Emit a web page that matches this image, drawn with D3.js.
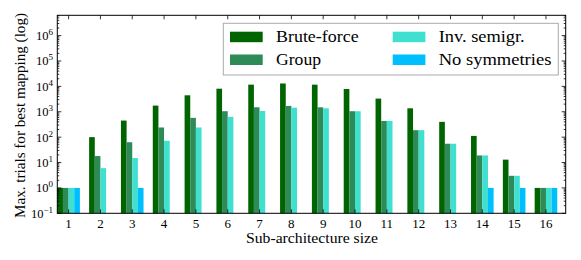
<!DOCTYPE html>
<html><head><meta charset="utf-8">
<script src="https://cdn.jsdelivr.net/npm/d3@7"></script>
<style>body{margin:0;background:#fff}svg{display:block}text{font-family:"Liberation Serif","Times New Roman",serif;fill:#000}</style>
</head><body>
<svg id="c" width="581" height="260"></svg>
<script>
const categories = [1,2,3,4,5,6,7,8,9,10,11,12,13,14,15,16];
const seriesNames = ["Brute-force","Group","Inv. semigr.","No symmetries"];
const colors = ["#006400","#2e8b57","#40e0d0","#00bfff"];
const bruteForce = [1,100,450,1750,4450,8100,11700,13000,11700,7900,3300,1370,400,112,13,1];
const group      = [1,18,63,240,575,1050,1500,1700,1500,1050,435,188,55,19,3,1];
const invSemigr  = [1,6,15,72,240,630,1070,1450,1370,1050,435,188,55,19,3,1];
const noSym      = [1,null,1,null,null,null,null,null,null,null,null,null,null,1,1,1];
const yTickExp = [-1,0,1,2,3,4,5,6];

const series = [bruteForce, group, invSemigr, noSym];
const svg = d3.select("#c");
const L=57.3, R=565.7, T=15.3, B=213.3;
const x = d3.scaleLinear().domain([0.645,16.62]).range([L,R]);
const y = d3.scaleLog().domain([0.1, Math.pow(10,6.8)]).range([B,T]);
const bw = 0.1775;

const g = svg.append("g");
series.forEach((s,k)=>{
  g.selectAll(null).data(categories.map((c,i)=>({c,v:s[i]})).filter(d=>d.v!=null))
   .enter().append("rect")
   .attr("x", d=>x(d.c - 2*bw + k*bw))
   .attr("width", x(bw)-x(0))
   .attr("y", d=>y(d.v))
   .attr("height", d=>B-y(d.v))
   .attr("fill", colors[k]);
});

// ticks
const tk = svg.append("g").attr("stroke","#000").attr("stroke-width",0.8);
categories.forEach(c=>{
  const xx=x(c);
  tk.append("line").attr("x1",xx).attr("x2",xx).attr("y1",B).attr("y2",B-4);
  tk.append("line").attr("x1",xx).attr("x2",xx).attr("y1",T).attr("y2",T+4);
});
for(let e=-1;e<=6;e++){
  for(let m=1;m<=9;m++){
    const v=m*Math.pow(10,e);
    if(v<0.1||v>Math.pow(10,6.8)) continue;
    const yy=y(v), len = m===1?4:2;
    tk.append("line").attr("x1",L).attr("x2",L+len).attr("y1",yy).attr("y2",yy);
    tk.append("line").attr("x1",R).attr("x2",R-len).attr("y1",yy).attr("y2",yy);
  }
}
svg.append("rect").attr("x",L).attr("y",T).attr("width",R-L).attr("height",B-T)
  .attr("fill","none").attr("stroke","#000").attr("stroke-width",1);

// x tick labels
svg.append("g").selectAll("text").data(categories).enter().append("text")
  .attr("x",d=>x(d)).attr("y",227.5).attr("text-anchor","middle").attr("font-size",13).text(d=>d);
// y tick labels
const yl = svg.append("g").selectAll("text").data(yTickExp).enter().append("text")
  .attr("x",53).attr("y",d=>y(Math.pow(10,d))+4.5).attr("text-anchor","end").attr("font-size",12.5);
yl.append("tspan").text("10");
yl.append("tspan").attr("dy",-5).attr("font-size",9).text(d=>d<0?"\u2212"+(-d):d);

svg.append("text").attr("x",312).attr("y",243).attr("text-anchor","middle").attr("font-size",14.5)
  .attr("textLength",132).attr("lengthAdjust","spacingAndGlyphs").text("Sub-architecture size");
svg.append("text").attr("transform","translate(25,115.5) rotate(-90)").attr("text-anchor","middle").attr("font-size",14.5)
  .attr("textLength",205).attr("lengthAdjust","spacingAndGlyphs").text("Max. trials for best mapping (log)");

// legend
const lg = svg.append("g");
lg.append("rect").attr("x",223.3).attr("y",23.3).attr("width",335).attr("height",51.7).attr("fill","#fff").attr("stroke","#aaa").attr("stroke-width",1);
const pos=[[230,31.7],[230,54.5],[392.7,31.7],[392.7,54.5]];
const widths=[82.6,45,86,112.7];
seriesNames.forEach((n,k)=>{
  lg.append("rect").attr("x",pos[k][0]).attr("y",pos[k][1]).attr("width",32.7).attr("height",10.5).attr("fill",colors[k]);
  lg.append("text").attr("x",pos[k][0]+46).attr("y",pos[k][1]+10).attr("font-size",16.5)
    .attr("textLength",widths[k]).attr("lengthAdjust","spacingAndGlyphs").text(n);
});
</script>
</body></html>
